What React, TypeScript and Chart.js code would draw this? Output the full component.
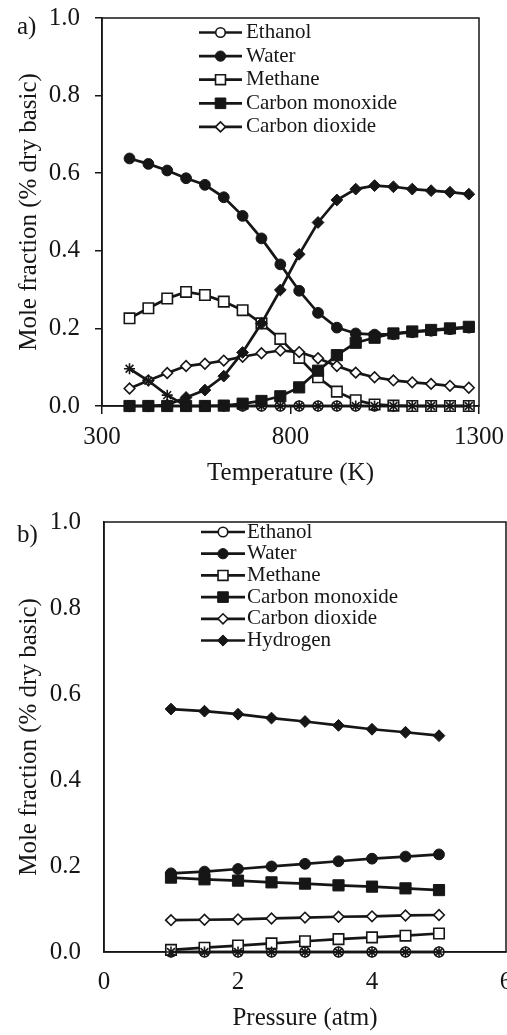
import React, { useEffect, useRef } from 'react';
import { Chart, registerables } from 'chart.js';
import { drawPoint } from 'chart.js/helpers';

Chart.register(...registerables);

const FONT = "'Liberation Serif', 'Times New Roman', serif";
const INK = '#161616';

// ---------- panel a) : temperature sweep ----------
const temperatures = [373, 423, 473, 523, 573, 623, 673, 723, 773, 823, 873, 923, 973, 1023, 1073, 1123, 1173, 1223, 1273];
const ethanolT = [0, 0, 0, 0, 0, 0, 0, 0, 0, 0, 0, 0, 0, 0, 0, 0, 0, 0, 0];
const waterT = [0.638, 0.624, 0.607, 0.587, 0.570, 0.538, 0.490, 0.432, 0.365, 0.297, 0.240, 0.202, 0.187, 0.184, 0.185, 0.190, 0.194, 0.198, 0.202];
const methaneT = [0.226, 0.252, 0.277, 0.294, 0.286, 0.269, 0.247, 0.213, 0.173, 0.124, 0.074, 0.037, 0.015, 0.004, 0.001, 0, 0, 0, 0];
const coT = [0, 0, 0, 0, 0, 0.001, 0.006, 0.013, 0.025, 0.048, 0.091, 0.131, 0.163, 0.176, 0.187, 0.192, 0.196, 0.200, 0.204];
const co2T = [0.045, 0.066, 0.085, 0.103, 0.109, 0.117, 0.127, 0.136, 0.143, 0.139, 0.123, 0.103, 0.086, 0.074, 0.066, 0.061, 0.057, 0.052, 0.047];
const hydrogenT = [0, 0, 0.003, 0.022, 0.041, 0.077, 0.138, 0.213, 0.299, 0.391, 0.473, 0.531, 0.559, 0.568, 0.565, 0.559, 0.555, 0.551, 0.546];
const otherT = [0.096, 0.065, 0.028, 0, 0, 0, 0, 0, 0, 0, 0, 0, 0, 0, 0, 0, 0, 0, 0];

const tempTicks = [300, 800, 1300];

// ---------- panel b) : pressure sweep ----------
const pressures = [1, 1.5, 2, 2.5, 3, 3.5, 4, 4.5, 5];
const ethanolP = [0, 0, 0, 0, 0, 0, 0, 0, 0];
const waterP = [0.183, 0.187, 0.193, 0.199, 0.205, 0.211, 0.217, 0.222, 0.227];
const methaneP = [0.005, 0.010, 0.015, 0.020, 0.025, 0.030, 0.034, 0.038, 0.043];
const coP = [0.173, 0.169, 0.166, 0.162, 0.159, 0.155, 0.152, 0.148, 0.144];
const co2P = [0.074, 0.075, 0.076, 0.078, 0.080, 0.082, 0.083, 0.085, 0.086];
const hydrogenP = [0.565, 0.560, 0.553, 0.544, 0.536, 0.527, 0.518, 0.511, 0.503];
const otherP = [0, 0, 0, 0, 0, 0, 0, 0, 0];

const pressureTicks = [0, 2, 4, 6];
const fractionTicks = [0, 0.2, 0.4, 0.6, 0.8, 1.0];

type Marker = { style: string; filled: boolean; radius: number };
const markers: Record<string, Marker> = {
  Ethanol: { style: 'circle', filled: false, radius: 5 },
  Water: { style: 'circle', filled: true, radius: 5.4 },
  Methane: { style: 'rect', filled: false, radius: 7.4 },
  'Carbon monoxide': { style: 'rect', filled: true, radius: 7.9 },
  'Carbon dioxide': { style: 'rectRot', filled: false, radius: 5.3 },
  Hydrogen: { style: 'rectRot', filled: true, radius: 5.9 },
  Other: { style: 'star', filled: false, radius: 5.5 },
};

function makeDatasets(xs: number[], series: [string, number[], boolean][]) {
  const n = series.length;
  return series.map(([label, ys, inLegend], i) => {
    const m = markers[label];
    return {
      label,
      inLegend,
      data: xs.map((x, k) => ({ x, y: ys[k] })),
      borderColor: INK,
      borderWidth: 2.7,
      pointStyle: m.style,
      pointRadius: m.radius,
      pointHoverRadius: m.radius,
      pointBackgroundColor: m.filled ? INK : '#ffffff',
      pointBorderColor: INK,
      pointBorderWidth: m.filled ? 1 : 1.6,
      tension: 0,
      fill: false,
      clip: false,
      order: n - i,
    };
  });
}

const lineLegend = {
  id: 'lineLegend',
  afterDraw(chart: any, _a: any, opts: any) {
    const { ctx } = chart;
    let i = 0;
    chart.data.datasets.forEach((ds: any) => {
      if (!ds.inLegend) return;
      const y = opts.y0 + i * opts.dy;
      i++;
      ctx.save();
      ctx.strokeStyle = INK;
      ctx.lineWidth = 2.7;
      ctx.beginPath();
      ctx.moveTo(opts.x1, y);
      ctx.lineTo(opts.x2, y);
      ctx.stroke();
      ctx.fillStyle = ds.pointBackgroundColor;
      ctx.strokeStyle = ds.pointBorderColor;
      ctx.lineWidth = ds.pointBorderWidth;
      drawPoint(ctx, { pointStyle: ds.pointStyle, radius: ds.pointRadius * 0.95, rotation: 0, borderWidth: ds.pointBorderWidth } as any, (opts.x1 + opts.x2) / 2, y);
      ctx.fillStyle = INK;
      ctx.font = `${opts.size}px ${FONT}`;
      ctx.textAlign = 'left';
      ctx.textBaseline = 'middle';
      ctx.fillText(ds.label, opts.textX, y);
      ctx.restore();
    });
  },
};

const frame = {
  id: 'frame',
  beforeDatasetsDraw(chart: any) {
    const { ctx, chartArea } = chart;
    ctx.save();
    ctx.strokeStyle = INK;
    ctx.lineWidth = 1.5;
    ctx.strokeRect(chartArea.left, chartArea.top, chartArea.right - chartArea.left, chartArea.bottom - chartArea.top);
    ctx.restore();
  },
};

const panelLabel = {
  id: 'panelLabel',
  afterDraw(chart: any, _a: any, opts: any) {
    const { ctx } = chart;
    ctx.save();
    ctx.fillStyle = INK;
    ctx.font = `25px ${FONT}`;
    ctx.textAlign = 'left';
    ctx.textBaseline = 'middle';
    ctx.fillText(opts.text, opts.x, opts.y);
    ctx.restore();
  },
};

function zeroPadding(s: any) {
  s.paddingTop = 0;
  s.paddingBottom = 0;
  s.paddingLeft = 0;
  s.paddingRight = 0;
}

function buildConfig(p: any) {
  return {
    type: 'line',
    data: { datasets: p.datasets },
    plugins: [frame, lineLegend, panelLabel],
    options: {
      responsive: false,
      animation: false,
      events: [],
      layout: { padding: { top: p.padTop, right: p.padRight, left: 0, bottom: 0 } },
      plugins: {
        legend: { display: false },
        tooltip: { enabled: false },
        lineLegend: p.legend,
        panelLabel: p.label,
      },
      scales: {
        x: {
          type: 'linear',
          min: p.xTicks[0],
          max: p.xTicks[p.xTicks.length - 1],
          afterFit: (s: any) => { s.height = p.xHeight; zeroPadding(s); },
          afterBuildTicks: (s: any) => { s.ticks = p.xTicks.map((v: number) => ({ value: v })); },
          ticks: {
            color: INK,
            padding: p.xTickPad,
            maxRotation: 0,
            font: { family: FONT, size: 25 },
            callback: (v: any) => String(v),
          },
          grid: { drawOnChartArea: false, drawTicks: p.ticks, tickLength: 8, color: INK, lineWidth: 1.5 },
          border: { display: true, color: INK, width: 1.5 },
          title: {
            display: true,
            text: p.xTitle,
            color: INK,
            font: { family: FONT, size: 25 },
            padding: { top: 0, bottom: p.xTitlePad },
          },
        },
        y: {
          type: 'linear',
          min: 0,
          max: 1,
          afterFit: (s: any) => { s.width = p.yWidth; zeroPadding(s); },
          afterBuildTicks: (s: any) => { s.ticks = fractionTicks.map((v) => ({ value: v })); },
          ticks: {
            color: INK,
            padding: p.yTickPad,
            font: { family: FONT, size: 25 },
            callback: (v: any) => Number(v).toFixed(1),
          },
          grid: { drawOnChartArea: false, drawTicks: p.ticks, tickLength: 7, color: INK, lineWidth: 1.5 },
          border: { display: true, color: INK, width: 1.5 },
          title: {
            display: true,
            text: 'Mole fraction (% dry basic)',
            color: INK,
            font: { family: FONT, size: 25 },
            padding: { top: 14, bottom: 0 },
          },
        },
      },
    },
  };
}

function ChartCanvas({ config, width, height, top }: any) {
  const ref = useRef<HTMLCanvasElement>(null);
  useEffect(() => {
    if (!ref.current) return;
    const chart = new Chart(ref.current, config as any);
    return () => chart.destroy();
  }, []);
  return (
    <canvas
      ref={ref}
      width={width}
      height={height}
      style={{ position: 'absolute', left: 0, top, width, height }}
    />
  );
}

export default function App() {
  const topConfig = buildConfig({
    datasets: makeDatasets(temperatures, [
      ['Ethanol', ethanolT, true],
      ['Water', waterT, true],
      ['Methane', methaneT, true],
      ['Carbon monoxide', coT, true],
      ['Carbon dioxide', co2T, true],
      ['Hydrogen', hydrogenT, false],
      ['Other', otherT, false],
    ]),
    padTop: 18,
    padRight: 28,
    xHeight: 94,
    yWidth: 102,
    xTicks: tempTicks,
    xTickPad: 8,
    yTickPad: 15,
    ticks: true,
    xTitle: 'Temperature (K)',
    xTitlePad: 12,
    legend: { x1: 199, x2: 242, textX: 246, y0: 32.5, dy: 23.6, size: 21 },
    label: { text: 'a)', x: 17, y: 27 },
  });
  const bottomConfig = buildConfig({
    datasets: makeDatasets(pressures, [
      ['Ethanol', ethanolP, true],
      ['Water', waterP, true],
      ['Methane', methaneP, true],
      ['Carbon monoxide', coP, true],
      ['Carbon dioxide', co2P, true],
      ['Hydrogen', hydrogenP, true],
      ['Other', otherP, false],
    ]),
    padTop: 22,
    padRight: 54,
    xHeight: 83,
    yWidth: 104,
    xTicks: pressureTicks,
    xTickPad: 15,
    yTickPad: 23,
    ticks: false,
    xTitle: 'Pressure (atm)',
    xTitlePad: 2,
    legend: { x1: 201, x2: 245, textX: 247, y0: 32, dy: 21.7, size: 21 },
    label: { text: 'b)', x: 17, y: 35 },
  });
  return (
    <div style={{ position: 'fixed', left: 0, top: 0, width: 507, height: 1035, overflow: 'hidden', background: '#ffffff' }}>
      <ChartCanvas config={topConfig} width={507} height={500} top={0} />
      <ChartCanvas config={bottomConfig} width={560} height={535} top={500} />
    </div>
  );
}
